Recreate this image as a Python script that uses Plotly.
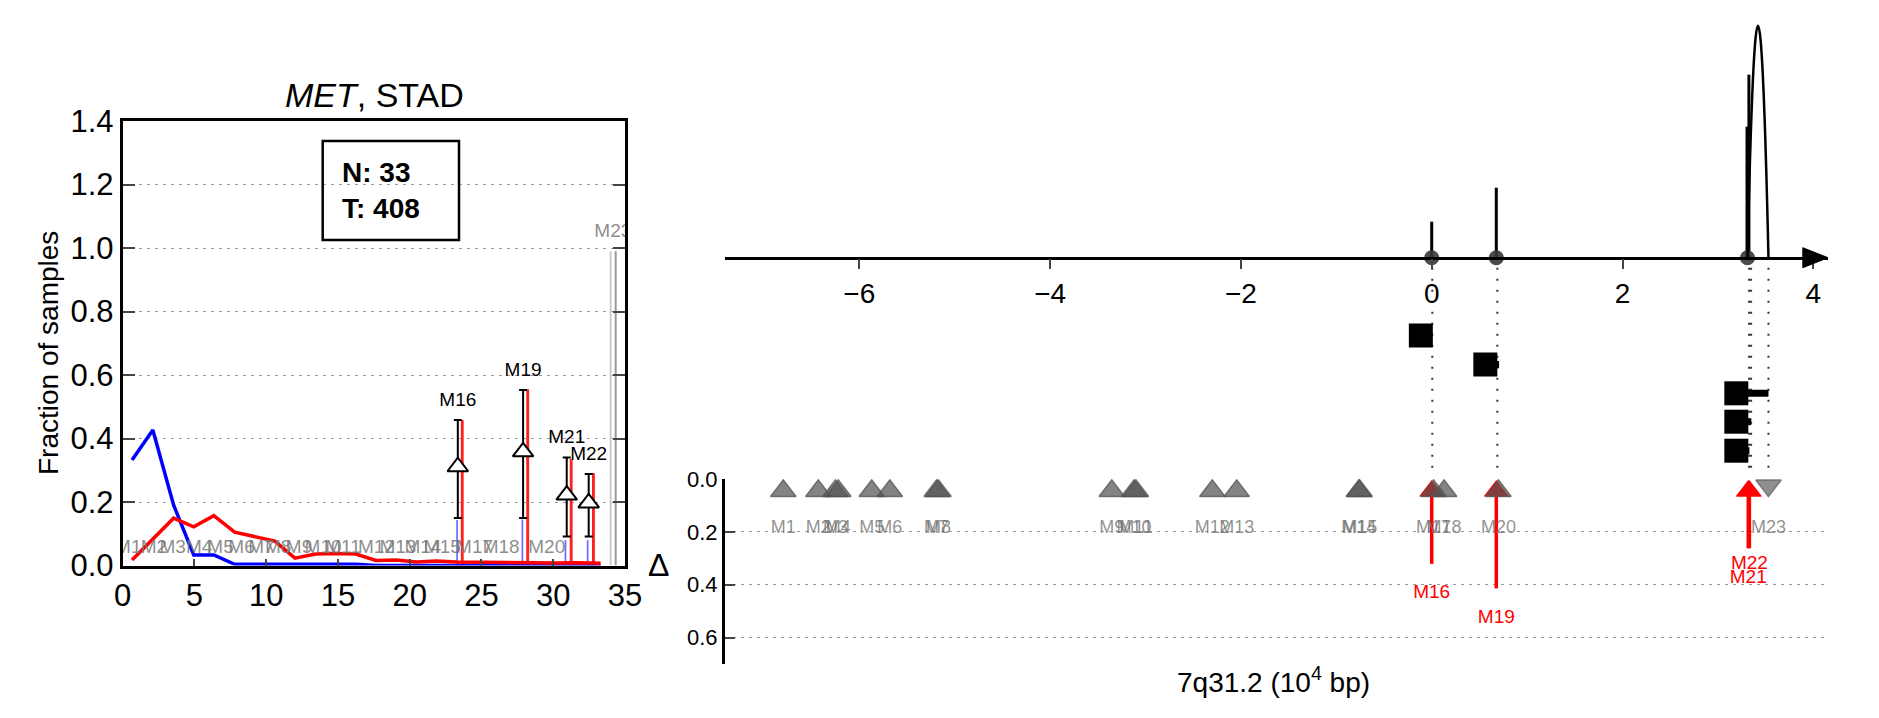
import plotly.graph_objects as go

FONT = "Liberation Sans, Arial, sans-serif"

# ---------------- Left panel data ----------------
line_x = [0.65, 2.1, 3.55, 4.95, 6.35, 7.8, 9.2, 10.6, 12.0, 13.45, 14.85, 16.25,
          17.65, 19.05, 20.45, 21.85, 23.25, 24.65, 26.0, 27.4, 28.8, 30.2, 31.6, 33.3]
normal_frac = [0.332, 0.427, 0.19, 0.033, 0.033, 0.004, 0.004, 0.004, 0.004, 0.004, 0.004, 0.004,
               0.0, 0.0, 0.0, 0.0, 0.0, 0.0, 0.0, 0.0, 0.0, 0.0, 0.0, 0.0]
tumor_frac = [0.017, 0.083, 0.149, 0.122, 0.157, 0.105, 0.091, 0.077, 0.023, 0.036, 0.038, 0.036,
              0.016, 0.017, 0.011, 0.014, 0.011, 0.010, 0.011, 0.010, 0.007, 0.008, 0.009, 0.007]

bottom_labels = ["M1", "M2", "M3", "M4", "M5", "M6", "M7", "M8", "M9", "M10", "M11", "M12",
                 "M13", "M14", "M15", "M17", "M18", "M20"]
bottom_label_x = [0.39, 2.18, 3.48, 5.33, 6.82, 8.28, 9.67, 10.83, 12.29, 13.96, 15.35, 17.68,
                  19.18, 20.92, 22.27, 24.52, 26.37, 29.55]

sig_labels = ["M16", "M19", "M21", "M22"]
sig_x = [23.35, 27.9, 30.94, 32.47]
sig_delta = [0.311, 0.358, 0.222, 0.197]
sig_ci_hi = [0.458, 0.553, 0.340, 0.288]
sig_ci_lo = [0.150, 0.150, 0.091, 0.091]
tumor_bar_x = [23.66, 28.22, 31.25, 32.8]
tumor_bar = [0.458, 0.555, 0.335, 0.291]
normal_bar_x = [23.3, 27.85, 30.85, 32.4]
normal_bar = [0.143, 0.145, 0.080, 0.080]
other_bar_x = [34.0, 34.35]
other_bar = [0.99, 0.99]
other_label = "M23"

n_normal = 33
n_tumor = 408

# ---------------- Right panel data ----------------
mut_labels = ["M%d" % i for i in range(1, 24)]
mut_pos = [-6.797, -6.43, -6.25, -6.22, -5.87, -5.68, -5.19, -5.17, -3.354, -3.12, -3.10,
           -2.30, -2.044, -0.765, -0.755, 0.0, 0.02, 0.13, 0.677, 0.70, 3.318, 3.33, 3.53]
mut_delta = [0, 0, 0, 0, 0, 0, 0, 0, 0, 0, 0, 0, 0, 0, 0, 0.321, 0, 0, 0.414, 0, 0.262, 0.262, -0.01]

stem_x = [0.0, 0.677, 3.305, 3.315, 3.325]
stem_h = [0.36, 0.70, 1.31, 1.25, 1.83]
dot_x = [0.0, 0.677, 3.31]
arc_start, arc_end, arc_h = 3.31, 3.53, 2.32

sq_x = [-0.114, 0.562, 3.193, 3.193, 3.193]
sq_y = [-0.778, -1.068, -1.356, -1.64, -1.93]
sq_end = [-0.114, 0.706, 3.53, 3.35, 3.33]

guide_x = [0.006, 0.688, 3.327, 3.348, 3.53]

fig = go.Figure()

# ---------- left panel traces ----------
fig.add_trace(go.Bar(x=other_bar_x, y=other_bar, width=0.14,
                     marker=dict(color=["#cccccc", "#999999"], line_width=0)))
fig.add_trace(go.Bar(x=normal_bar_x, y=normal_bar, width=0.12,
                     marker=dict(color="rgba(60,60,255,0.75)", line_width=0)))
fig.add_trace(go.Bar(x=tumor_bar_x, y=tumor_bar, width=0.2,
                     marker=dict(color="#ff2020", line_width=0)))
fig.add_trace(go.Scatter(x=line_x, y=normal_frac, mode="lines",
                         line=dict(color="#0000ff", width=3.5)))
fig.add_trace(go.Scatter(x=line_x, y=tumor_frac, mode="lines",
                         line=dict(color="#ff0000", width=3.5)))
fig.add_trace(go.Scatter(
    x=sig_x, y=sig_delta, mode="markers",
    error_y=dict(type="data", symmetric=False,
                 array=[h - d for h, d in zip(sig_ci_hi, sig_delta)],
                 arrayminus=[d - l for d, l in zip(sig_delta, sig_ci_lo)],
                 color="black", thickness=2, width=4),
    marker=dict(symbol="triangle-up", size=18, color="white",
                line=dict(color="black", width=2))))
fig.add_trace(go.Scatter(x=sig_x, y=[h + 0.06 for h in sig_ci_hi], mode="text", text=sig_labels,
                         textfont=dict(family=FONT, size=19, color="black")))
fig.add_trace(go.Scatter(x=bottom_label_x, y=[0.054] * len(bottom_label_x), mode="text",
                         text=bottom_labels,
                         textfont=dict(family=FONT, size=19, color="rgba(120,120,120,0.85)")))
fig.add_trace(go.Scatter(x=[other_bar_x[1] - 0.2], y=[other_bar[1] + 0.06], mode="text",
                         text=[other_label], cliponaxis=True,
                         textfont=dict(family=FONT, size=19, color="rgba(120,120,120,0.85)")))

# ---------- right top panel ----------
sx, sy = [], []
for x, h in zip(stem_x, stem_h):
    sx += [x, x, None]
    sy += [0, h, None]
fig.add_trace(go.Scatter(x=sx, y=sy, mode="lines", line=dict(color="black", width=3),
                         xaxis="x2", yaxis="y2"))
gx, gy = [], []
for x in guide_x:
    gx += [x, x, None]
    gy += [-0.10, -2.13, None]
fig.add_trace(go.Scatter(x=gx, y=gy, mode="lines",
                         line=dict(color="#333333", width=2, dash="2px,9px"),
                         xaxis="x2", yaxis="y2"))
fig.add_trace(go.Scatter(x=dot_x, y=[0] * len(dot_x), mode="markers",
                         marker=dict(size=15, color="rgba(55,55,55,0.9)"),
                         xaxis="x2", yaxis="y2"))
bx, by = [], []
for x0, x1, y in zip(sq_x, sq_end, sq_y):
    bx += [x0, x1, None]
    by += [y, y, None]
fig.add_trace(go.Scatter(x=bx, y=by, mode="lines", line=dict(color="black", width=7),
                         xaxis="x2", yaxis="y2"))
fig.add_trace(go.Scatter(x=sq_x, y=sq_y, mode="markers",
                         marker=dict(symbol="square", size=24, color="black"),
                         xaxis="x2", yaxis="y2"))

# ---------- right bottom (delta) panel ----------
sig_idx = [i for i, d in enumerate(mut_delta) if d > 0]
neg_idx = [i for i, d in enumerate(mut_delta) if d < 0]
zero_idx = [i for i, d in enumerate(mut_delta) if d == 0]

ax_, ay_ = [], []
for i in sig_idx:
    ax_ += [mut_pos[i], mut_pos[i], None]
    ay_ += [0.06, mut_delta[i], None]
fig.add_trace(go.Scatter(x=ax_, y=ay_, mode="lines", line=dict(color="red", width=3.5),
                         xaxis="x3", yaxis="y3"))
fig.add_trace(go.Scatter(x=[mut_pos[i] for i in sig_idx], y=[0.045] * len(sig_idx),
                         mode="markers",
                         marker=dict(symbol="triangle-up", size=22, color="red"),
                         xaxis="x3", yaxis="y3"))
fig.add_trace(go.Scatter(x=[mut_pos[i] for i in zero_idx], y=[0.045] * len(zero_idx),
                         mode="markers",
                         marker=dict(symbol="triangle-up", size=22, color="rgba(85,85,85,0.72)",
                                     line=dict(color="rgba(85,85,85,0.8)", width=1.5)),
                         xaxis="x3", yaxis="y3"))
fig.add_trace(go.Scatter(x=[mut_pos[i] for i in neg_idx], y=[0.025] * len(neg_idx),
                         mode="markers",
                         marker=dict(symbol="triangle-down", size=22, color="rgba(100,100,100,0.72)",
                                     line=dict(color="rgba(100,100,100,0.8)", width=1.5)),
                         xaxis="x3", yaxis="y3"))
gray_idx = zero_idx + neg_idx
fig.add_trace(go.Scatter(x=[mut_pos[i] for i in gray_idx], y=[0.188] * len(gray_idx),
                         mode="text", text=[mut_labels[i] for i in gray_idx],
                         textfont=dict(family=FONT, size=18, color="rgba(110,110,110,0.75)"),
                         xaxis="x3", yaxis="y3"))
red_label_off = {"M16": 0.112, "M19": 0.112, "M21": 0.112, "M22": 0.06}
fig.add_trace(go.Scatter(x=[mut_pos[i] for i in sig_idx],
                         y=[mut_delta[i] + red_label_off[mut_labels[i]] for i in sig_idx],
                         mode="text", text=[mut_labels[i] for i in sig_idx],
                         textfont=dict(family=FONT, size=19, color="red"),
                         xaxis="x3", yaxis="y3"))

W, H = 1879, 718
def px_x(p):
    return p / W
def px_y(p):
    return 1 - p / H

XR = [-7.408, 4.154]
GRID_DASH = "3px,5px"

fig.update_layout(
    template="none",
    width=W, height=H, margin=dict(l=0, r=0, t=0, b=0, autoexpand=False),
    paper_bgcolor="white", plot_bgcolor="white", showlegend=False,
    barmode="overlay", font=dict(family=FONT, color="black"),
    xaxis=dict(domain=[px_x(122.7), px_x(625)], range=[0, 35], tickvals=[0, 5, 10, 15, 20, 25, 30, 35],
               ticks="inside", ticklen=7, tickwidth=2, showline=True, linewidth=3, linecolor="black",
               mirror=True, showgrid=False, zeroline=False, tickfont=dict(size=31), anchor="y",
               automargin=False),
    yaxis=dict(domain=[px_y(565.5), px_y(121)], range=[0, 1.4],
               tickvals=[0, 0.2, 0.4, 0.6, 0.8, 1.0, 1.2, 1.4],
               ticktext=["0.0", "0.2", "0.4", "0.6", "0.8", "1.0", "1.2", "1.4"],
               ticks="inside", ticklen=12, tickwidth=2, showline=True, linewidth=3, linecolor="black",
               mirror="ticks", showgrid=True, gridcolor="#9a9a9a", griddash=GRID_DASH, gridwidth=1,
               zeroline=False, tickfont=dict(size=31), anchor="x", automargin=False),
    xaxis2=dict(domain=[px_x(725), px_x(1828)], range=XR, anchor="free", position=px_y(257.7),
                tickvals=[-6, -4, -2, 0, 2, 4], ticks="outside", ticklen=10, tickwidth=1.5,
                showline=True, linewidth=2.5, linecolor="black", showgrid=False, zeroline=False,
                tickfont=dict(size=28), side="bottom", automargin=False),
    yaxis2=dict(domain=[px_y(479), px_y(20)], range=[-2.213, 2.377], visible=False, anchor="x2",
                automargin=False),
    xaxis3=dict(domain=[px_x(725), px_x(1828)], range=XR, visible=False, anchor="y3",
                automargin=False),
    yaxis3=dict(domain=[px_y(664), px_y(479)], range=[0.70, 0], tickvals=[0, 0.2, 0.4, 0.6],
                ticktext=["0.0", "0.2", "0.4", "0.6"], ticks="inside", ticklen=10, tickwidth=2,
                showline=True, linewidth=3, linecolor="black", showgrid=True, gridcolor="#9a9a9a",
                griddash=GRID_DASH, gridwidth=1, zeroline=False, tickfont=dict(size=22), anchor="x3",
                automargin=False),
)

# arc (structural event) and axis arrow head
fig.add_shape(type="path", xref="x2", yref="y2",
              path="M %f,0 Q %f,%f %f,0" % (arc_start, (arc_start + arc_end) / 2, 2 * arc_h, arc_end),
              line=dict(color="black", width=2.5))
fig.add_shape(type="path", xref="x2", yref="y2",
              path="M 3.89,0.1 L %f,0 L 3.89,-0.1 Z" % XR[1],
              fillcolor="black", line=dict(color="black", width=1))

# N / T box
fig.add_shape(type="rect", xref="paper", yref="paper",
              x0=px_x(322.7), x1=px_x(459), y0=px_y(240), y1=px_y(141),
              line=dict(color="black", width=2.5))

def note(x, y, text, size, **kw):
    args = dict(xref="paper", yref="paper", x=x, y=y, showarrow=False, text=text,
                font=dict(size=size), xanchor="center", yanchor="middle")
    args.update(kw)
    fig.add_annotation(**args)

note(px_x(340), px_y(190.5), "<b>N: %d</b><br><b>T: %d</b>" % (n_normal, n_tumor), 28,
     xanchor="left", align="left")
note(px_x(374), px_y(95), "<i>MET</i>, STAD", 34)
note(px_x(48), px_y(353), "Fraction of samples", 28, textangle=-90)
note(px_x(658), px_y(565), "Δ", 32)
note(px_x(1273), px_y(680), "7q31.2 (10<sup>4</sup> bp)", 28)

fig.write_html("out.html", config={"displayModeBar": False},
               post_script="document.body.style.margin='0px';")
